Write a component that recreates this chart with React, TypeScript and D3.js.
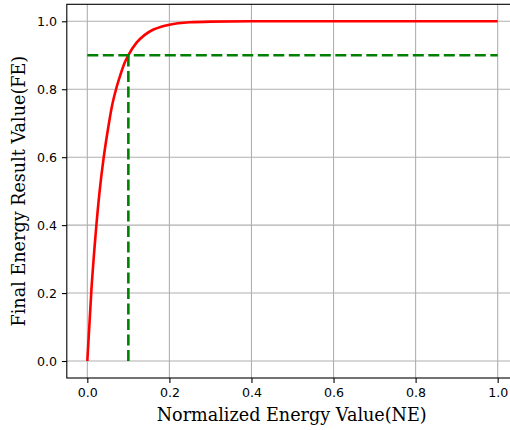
import React, { useEffect, useRef } from "react";
import * as d3 from "d3";

const NE_VALUES = [0, 0.01, 0.02, 0.03, 0.04, 0.05, 0.06, 0.07, 0.08, 0.09, 0.1, 0.12, 0.14, 0.16, 0.18, 0.2, 0.25, 0.3, 0.4, 0.6, 0.8, 1.0];
const FE_VALUES = [0, 0.21, 0.37, 0.5, 0.6, 0.68, 0.75, 0.8, 0.84, 0.875, 0.9, 0.937, 0.96, 0.975, 0.984, 0.99, 0.997, 0.999, 1.0, 1.0, 1.0, 1.0];
const THRESHOLD_NE = 0.1;
const THRESHOLD_FE = 0.9;
const X_TICKS = [0, 0.2, 0.4, 0.6, 0.8, 1.0];
const Y_TICKS = [0, 0.2, 0.4, 0.6, 0.8, 1.0];
const X_LABEL = "Normalized Energy Value(NE)";
const Y_LABEL = "Final Energy Result Value(FE)";

const W = 510;
const H = 430;
const M = { left: 66.8, top: 4.3, right: 518.2, bottom: 378 };

export default function App() {
  const ref = useRef<SVGSVGElement>(null);
  useEffect(() => {
    document.body.style.margin = "0";
    const svg = d3.select(ref.current);
    svg.selectAll("*").remove();
    const x = d3.scaleLinear().domain([-0.05, 1.05]).range([M.left, M.right]);
    const y = d3.scaleLinear().domain([-0.05, 1.05]).range([M.bottom, M.top]);
    const grid = svg.append("g");
    X_TICKS.forEach((t) => {
      grid.append("line").attr("x1", x(t)).attr("x2", x(t)).attr("y1", M.top).attr("y2", M.bottom)
        .attr("stroke", "#b0b0b0").attr("stroke-width", 1.1);
    });
    Y_TICKS.forEach((t) => {
      grid.append("line").attr("x1", M.left).attr("x2", M.right).attr("y1", y(t)).attr("y2", y(t))
        .attr("stroke", "#b0b0b0").attr("stroke-width", 1.1);
    });
    const pts: [number, number][] = NE_VALUES.map((v, i) => [v, FE_VALUES[i]]);
    const line = d3.line<[number, number]>().x((d) => x(d[0])).y((d) => y(d[1])).curve(d3.curveMonotoneX);
    svg.append("path").attr("d", line(pts)).attr("fill", "none").attr("stroke", "#ff0000").attr("stroke-width", 2.6);
    svg.append("line").attr("x1", x(0)).attr("x2", x(1)).attr("y1", y(THRESHOLD_FE)).attr("y2", y(THRESHOLD_FE))
      .attr("stroke", "#008000").attr("stroke-width", 2.6).attr("stroke-dasharray", "11,4.5");
    svg.append("line").attr("x1", x(THRESHOLD_NE)).attr("x2", x(THRESHOLD_NE)).attr("y1", y(0)).attr("y2", y(THRESHOLD_FE))
      .attr("stroke", "#008000").attr("stroke-width", 2.6).attr("stroke-dasharray", "11,4.5");
    svg.append("rect").attr("x", M.left).attr("y", M.top).attr("width", M.right - M.left).attr("height", M.bottom - M.top)
      .attr("fill", "none").attr("stroke", "#000").attr("stroke-width", 1.1);
    const xAxis = d3.axisBottom(x).tickValues(X_TICKS).tickFormat(d3.format(".1f")).tickSize(4.9).tickPadding(4.9);
    const gx = svg.append("g").attr("transform", `translate(0,${M.bottom})`).call(xAxis);
    const yAxis = d3.axisLeft(y).tickValues(Y_TICKS).tickFormat(d3.format(".1f")).tickSize(4.9).tickPadding(4.9);
    const gy = svg.append("g").attr("transform", `translate(${M.left},0)`).call(yAxis);
    [gx, gy].forEach((g) => {
      g.select(".domain").remove();
      g.selectAll(".tick line").attr("stroke", "#000").attr("stroke-width", 1.1);
      g.selectAll(".tick text").attr("fill", "#000").attr("font-family", "DejaVu Sans").attr("font-size", 12.6);
    });
    svg.append("text").attr("x", (M.left + M.right) / 2 - 0.8).attr("y", 421).attr("text-anchor", "middle")
      .attr("font-family", "DejaVu Serif").attr("font-size", 17.6).attr("fill", "#000").text(X_LABEL);
    svg.append("text").attr("transform", `translate(25,${(M.top + M.bottom) / 2}) rotate(-90)`).attr("text-anchor", "middle")
      .attr("font-family", "DejaVu Serif").attr("font-size", 17.6).attr("fill", "#000").text(Y_LABEL);
  }, []);
  return <svg ref={ref} width={W} height={H} style={{ display: "block", background: "#fff" }} />;
}
